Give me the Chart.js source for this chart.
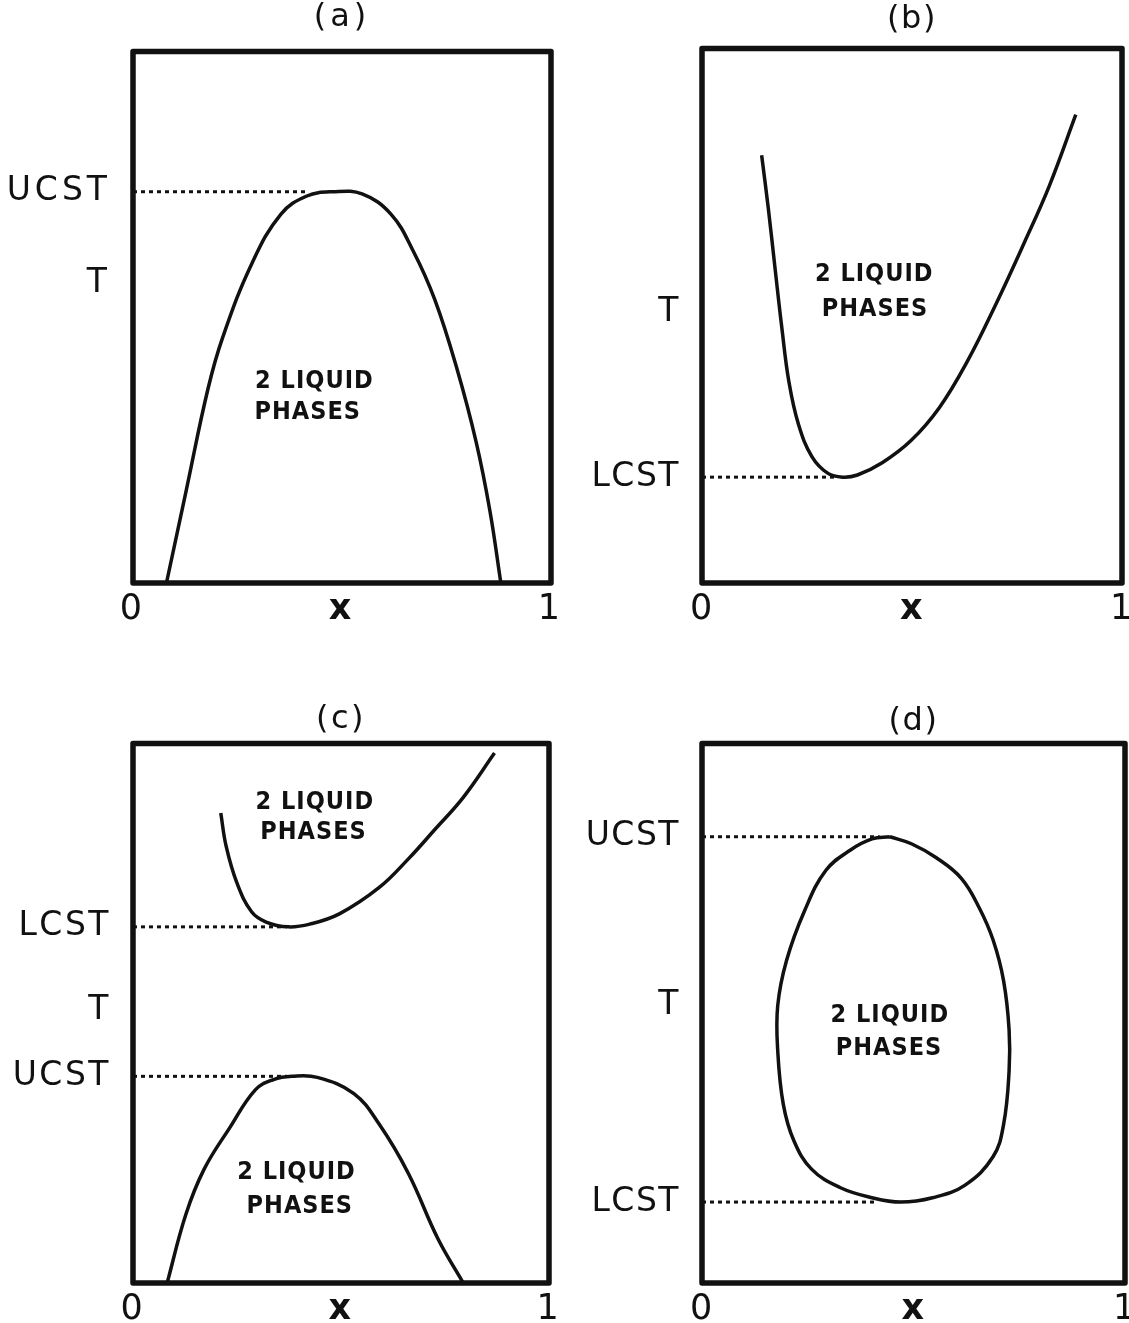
<!DOCTYPE html>
<html>
<head>
<meta charset="utf-8">
<title>Liquid-liquid phase diagrams</title>
<script src="https://cdn.jsdelivr.net/npm/chart.js@4.4.1/dist/chart.umd.min.js"></script>
<style>
  html, body { margin: 0; padding: 0; background: #fff; overflow: hidden; }
  body { width: 1129px; height: 1323px; position: relative; }
  canvas { position: absolute; }
</style>
</head>
<body>
<script>
  // x runs 0..1 (mole fraction), T is on an arbitrary 0..100 scale

  /* ---- (a) upper critical solution temperature ---- */
  const aCurveX = [0.08, 0.127, 0.179, 0.215, 0.285, 0.354, 0.416, 0.478, 0.548, 0.617, 0.670, 0.722, 0.775, 0.821, 0.854, 0.880];
  const aCurveT = [0, 17.3, 36.4, 46.3, 60.2, 69.4, 72.8, 73.6, 73.2, 69.4, 62.5, 53.3, 40.3, 26.5, 13.5, 0];
  const aUcst = 73.6;
  const aUcstX = 0.42;
  const aYTicks = [56.3, aUcst];
  const aYLabels = ["T", "UCST"];

  /* ---- (b) lower critical solution temperature ---- */
  const bCurveX = [0.142, 0.158, 0.174, 0.190, 0.207, 0.230, 0.262, 0.300, 0.335, 0.370, 0.429, 0.497, 0.565, 0.632, 0.700, 0.767, 0.827, 0.890];
  const bCurveT = [80.0, 70.0, 58.8, 47.8, 37.6, 29.6, 23.6, 20.5, 19.8, 20.2, 22.5, 26.6, 32.8, 41.5, 52.2, 63.6, 74.3, 87.6];
  const bLcst = 19.8;
  const bLcstX = 0.32;
  const bYTicks = [bLcst, 50.7];
  const bYLabels = ["LCST", "T"];

  /* ---- (c) both, LCST above UCST ---- */
  const cUpperX = [0.211, 0.224, 0.250, 0.285, 0.320, 0.373, 0.425, 0.496, 0.592, 0.662, 0.724, 0.794, 0.869];
  const cUpperT = [87.1, 80.9, 74.1, 68.8, 66.9, 66.0, 66.5, 68.4, 73.3, 78.6, 83.9, 90.0, 98.2];
  const cLowerX = [0.082, 0.127, 0.171, 0.232, 0.294, 0.338, 0.382, 0.443, 0.531, 0.592, 0.662, 0.733, 0.794];
  const cLowerT = [0, 12.7, 21.1, 28.7, 35.8, 37.7, 38.3, 38.1, 35.1, 29.4, 20.3, 8.2, 0];
  const cLcst = 66.0;
  const cLcstX = 0.37;
  const cUcst = 38.3;
  const cUcstX = 0.37;
  const cYTicks = [cUcst, 50.5, cLcst];
  const cYLabels = ["UCST", "T", "LCST"];

  /* ---- (d) closed loop ---- */
  const dLoopX = [0.444, 0.495, 0.554, 0.613, 0.655, 0.688, 0.713, 0.726, 0.726, 0.713, 0.688, 0.621, 0.545, 0.470, 0.402, 0.326, 0.259, 0.217, 0.192, 0.179, 0.179, 0.200, 0.242, 0.293, 0.352, 0.402, 0.444];
  const dLoopT = [82.7, 81.4, 78.8, 75.0, 69.6, 63.6, 56.0, 46.9, 39.3, 29.4, 23.4, 18.1, 15.8, 15.0, 15.8, 17.7, 21.1, 26.4, 33.2, 43.1, 51.4, 59.8, 68.9, 76.5, 80.3, 82.3, 82.7];
  const dUcst = 82.7;
  const dUcstX = 0.42;
  const dLcst = 15.0;
  const dLcstX = 0.41;
  const dYTicks = [dLcst, 51.4, dUcst];
  const dYLabels = ["LCST", "T", "UCST"];

  /* ---- shared x axis ---- */
  const xTicks = [0, 0.5, 1];
  const xLabels = ["0", "x", "1"];

  const INK = "#111";
  const FONT = '"DejaVu Sans", sans-serif';

  const toPoints = (xs, ts) => xs.map((x, i) => ({ x, y: ts[i] }));
  const level = (t, xEnd) => [{ x: 0, y: t }, { x: xEnd, y: t }];

  const curve = (points) => ({
    data: points,
    showLine: true,
    borderColor: INK,
    borderWidth: 3.5,
    pointRadius: 0,
    tension: 0.4,
  });

  const dotted = (points) => ({
    data: points,
    showLine: true,
    borderColor: INK,
    borderWidth: 3,
    borderDash: [4, 4],
    pointRadius: 0,
    tension: 0,
  });

  // box round the plot area + the "2 LIQUID PHASES" notes
  const framePlugin = {
    id: "frame",
    beforeDraw(chart, args, opts) {
      chart.ctx.letterSpacing = (opts.spacing || 0) + "px";
    },
    afterDatasetsDraw(chart, args, opts) {
      const { ctx, chartArea: a, scales } = chart;
      ctx.save();
      ctx.letterSpacing = "1px";
      ctx.fillStyle = INK;
      ctx.font = 'bold 25px "DejaVu Sans Condensed", "DejaVu Sans", sans-serif';
      ctx.textAlign = "center";
      ctx.textBaseline = "middle";
      (opts.notes || []).forEach((n) => {
        ctx.fillText(n.text, scales.x.getPixelForValue(n.x), scales.y.getPixelForValue(n.y));
      });
      ctx.lineWidth = 5.5;
      ctx.strokeStyle = INK;
      ctx.lineJoin = "round";
      ctx.strokeRect(a.left, a.top, a.right - a.left, a.bottom - a.top);
      ctx.restore();
    },
  };

  const panels = [
    {
      title: "(a)", left: 0, top: -2, width: 563, height: 635, yWidth: 133, gap: 16, spacing: 4,
      yTicks: aYTicks, yLabels: aYLabels,
      datasets: [dotted(level(aUcst, aUcstX)), curve(toPoints(aCurveX, aCurveT))],
      notes: [{ x: 0.434, y: 37.9, text: "2 LIQUID" }, { x: 0.418, y: 32.1, text: "PHASES" }],
    },
    {
      title: "(b)", left: 570, top: 0, width: 564, height: 633, yWidth: 132, gap: 11, spacing: 1.5,
      yTicks: bYTicks, yLabels: bYLabels,
      datasets: [dotted(level(bLcst, bLcstX)), curve(toPoints(bCurveX, bCurveT))],
      notes: [{ x: 0.410, y: 57.7, text: "2 LIQUID" }, { x: 0.412, y: 51.2, text: "PHASES" }],
    },
    {
      title: "(c)", left: 0, top: 700, width: 561, height: 633, yWidth: 133, gap: 6, spacing: 2.5,
      yTicks: cYTicks, yLabels: cYLabels,
      datasets: [
        dotted(level(cLcst, cLcstX)),
        dotted(level(cUcst, cUcstX)),
        curve(toPoints(cUpperX, cUpperT)),
        curve(toPoints(cLowerX, cLowerT)),
      ],
      notes: [
        { x: 0.437, y: 89.1, text: "2 LIQUID" }, { x: 0.434, y: 83.4, text: "PHASES" },
        { x: 0.393, y: 20.5, text: "2 LIQUID" }, { x: 0.401, y: 14.2, text: "PHASES" },
      ],
    },
    {
      title: "(d)", left: 570, top: 702, width: 567, height: 631, yWidth: 132, gap: 4, spacing: 1.5,
      yTicks: dYTicks, yLabels: dYLabels,
      datasets: [
        dotted(level(dUcst, dUcstX)),
        dotted(level(dLcst, dLcstX)),
        curve(toPoints(dLoopX, dLoopT)),
      ],
      notes: [{ x: 0.444, y: 49.5, text: "2 LIQUID" }, { x: 0.442, y: 43.5, text: "PHASES" }],
    },
  ];

  panels.forEach((p) => {
    const canvas = document.createElement("canvas");
    canvas.width = p.width;
    canvas.height = p.height;
    canvas.style.left = p.left + "px";
    canvas.style.top = p.top + "px";
    canvas.style.width = p.width + "px";
    canvas.style.height = p.height + "px";
    document.body.appendChild(canvas);

    new Chart(canvas, {
      type: "scatter",
      data: { datasets: p.datasets },
      plugins: [framePlugin],
      options: {
        responsive: false,
        animation: false,
        events: [],
        layout: { padding: { right: 12 } },
        plugins: {
          legend: { display: false },
          tooltip: { enabled: false },
          title: {
            display: true,
            text: p.title,
            fullSize: false,
            color: INK,
            font: { family: FONT, size: 32, weight: "normal" },
            padding: { top: 0, bottom: p.gap - 1 },
          },
          frame: { notes: p.notes, spacing: p.spacing },
        },
        scales: {
          x: {
            type: "linear",
            min: 0,
            max: 1,
            grid: { display: false },
            border: { display: false },
            afterBuildTicks: (s) => { s.ticks = xTicks.map((v) => ({ value: v })); },
            afterFit: (s) => { s.height = 50; },
            ticks: {
              autoSkip: false,
              maxRotation: 0,
              padding: -2,
              color: INK,
              font: (c) => ({ family: FONT, size: 35, weight: c.index === 1 ? "bold" : "normal" }),
              callback: (v, i) => xLabels[i],
            },
          },
          y: {
            type: "linear",
            min: 0,
            max: 100,
            grid: { display: false },
            border: { display: false },
            afterBuildTicks: (s) => { s.ticks = p.yTicks.map((v) => ({ value: v })); },
            afterFit: (s) => { s.width = p.yWidth; },
            ticks: {
              autoSkip: false,
              padding: 14,
              color: INK,
              font: { family: FONT, size: 33 },
              callback: (v, i) => p.yLabels[i],
            },
          },
        },
      },
    });
  });
</script>
</body>
</html>
